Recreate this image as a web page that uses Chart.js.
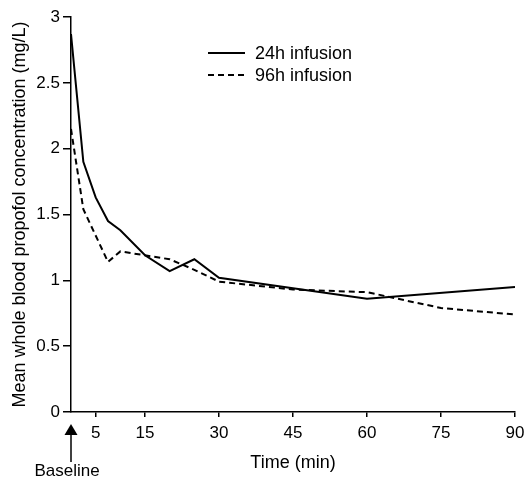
<!DOCTYPE html>
<html>
<head>
<meta charset="utf-8">
<script src="https://cdn.jsdelivr.net/npm/chart.js@4.4.0/dist/chart.umd.min.js"></script>
<style>
  html, body { margin: 0; padding: 0; background: #fff; }
  #wrap { width: 527px; height: 479px; }
</style>
</head>
<body>
<div id="wrap"><canvas id="myChart" width="527" height="479"></canvas></div>
<script>
// 24h infusion (solid)
var times24 = [0, 2.5, 5, 7.5, 10, 15, 20, 25, 30, 60, 90];
var conc24 = [2.87, 1.90, 1.63, 1.45, 1.38, 1.19, 1.07, 1.16, 1.02, 0.86, 0.95];
// 96h infusion (dashed)
var times96 = [0, 2.5, 7.5, 10, 15, 20, 25, 30, 45, 60, 75, 90];
var conc96 = [2.15, 1.54, 1.14, 1.22, 1.19, 1.16, 1.08, 0.99, 0.93, 0.91, 0.79, 0.74];

var seriesNames = ["24h infusion", "96h infusion"];
var xTicks = [5, 15, 30, 45, 60, 75, 90];
var baselineLabel = "Baseline";
var xTitle = "Time (min)";
var yTitle = "Mean whole blood propofol concentration (mg/L)";

var FONT = "'Liberation Sans', Arial, sans-serif";

function toPoints(xs, ys){
    var pts = [];
    for(let i=0; i<xs.length; i++){
        pts.push({x: xs[i], y: ys[i]});
    }
    return pts;
}

// legend inside the plot + baseline arrow under the x axis
var extras = {
    id: "extras",
    afterDraw: function(chart){
        var ctx = chart.ctx;
        var xs = chart.scales.x;
        ctx.save();
        ctx.fillStyle = "#000";
        ctx.strokeStyle = "#000";

        // legend
        ctx.font = "18px " + FONT;
        ctx.textBaseline = "middle";
        ctx.textAlign = "left";
        var ly = [53, 75];
        chart.data.datasets.forEach(function(ds, i){
            ctx.lineWidth = ds.borderWidth;
            ctx.setLineDash(ds.borderDash || []);
            ctx.beginPath();
            ctx.moveTo(208, ly[i]);
            ctx.lineTo(245, ly[i]);
            ctx.stroke();
            ctx.setLineDash([]);
            ctx.fillText(ds.label, 255, ly[i] + 1);
        });

        // baseline arrow
        var bx = xs.getPixelForValue(0);
        var top = xs.top;
        ctx.beginPath();
        ctx.moveTo(bx, top + 12);
        ctx.lineTo(bx - 6.5, top + 23);
        ctx.lineTo(bx + 6.5, top + 23);
        ctx.closePath();
        ctx.fill();
        ctx.lineWidth = 1.5;
        ctx.beginPath();
        ctx.moveTo(bx, top + 22);
        ctx.lineTo(bx, top + 50);
        ctx.stroke();
        ctx.font = "17px " + FONT;
        ctx.textAlign = "center";
        ctx.fillText(baselineLabel, bx - 4, top + 59);
        ctx.restore();
    }
};

var graph = new Chart("myChart", {
    type: "line",
    data: {
        datasets: [{
            label: seriesNames[0],
            data: toPoints(times24, conc24),
            borderColor: "#000",
            borderWidth: 2,
            pointRadius: 0,
            tension: 0,
            fill: false
        }, {
            label: seriesNames[1],
            data: toPoints(times96, conc96),
            borderColor: "#000",
            borderWidth: 2,
            borderDash: [6, 4],
            pointRadius: 0,
            tension: 0,
            fill: false
        }]
    },
    options: {
        responsive: false,
        animation: false,
        layout: {padding: {left: 5, right: 12, top: 17, bottom: 1}},
        plugins: {
            legend: {display: false},
            tooltip: {enabled: false}
        },
        scales: {
            x: {
                type: "linear",
                min: 0,
                max: 90,
                afterBuildTicks: function(s){
                    s.ticks = xTicks.map(function(v){ return {value: v}; });
                },
                afterFit: function(s){
                    s.height = 66;
                    s.paddingLeft = 0;
                    s.paddingRight = 0;
                },
                ticks: {
                    color: "#000",
                    font: {family: FONT, size: 17},
                    padding: 6,
                    maxRotation: 0,
                    autoSkip: false
                },
                grid: {
                    display: true,
                    drawOnChartArea: false,
                    drawTicks: true,
                    tickLength: 5,
                    color: "#000",
                    lineWidth: 1.5
                },
                border: {display: true, color: "#000", width: 1.5},
                title: {
                    display: true,
                    text: xTitle,
                    color: "#000",
                    font: {family: FONT, size: 18},
                    padding: {top: 4, bottom: 4}
                }
            },
            y: {
                min: 0,
                max: 3,
                ticks: {
                    stepSize: 0.5,
                    color: "#000",
                    font: {family: FONT, size: 17},
                    padding: 3,
                    callback: function(v){ return String(Number(v)); }
                },
                afterFit: function(s){
                    s.width = 66;
                    s.paddingTop = 0;
                    s.paddingBottom = 0;
                },
                grid: {
                    display: true,
                    drawOnChartArea: false,
                    drawTicks: true,
                    tickLength: 8,
                    color: "#000",
                    lineWidth: 1.5
                },
                border: {display: true, color: "#000", width: 1.5},
                title: {
                    display: true,
                    text: yTitle,
                    color: "#000",
                    font: {family: FONT, size: 18},
                    padding: {top: 4, bottom: 4}
                }
            }
        }
    },
    plugins: [extras]
});
</script>
</body>
</html>
